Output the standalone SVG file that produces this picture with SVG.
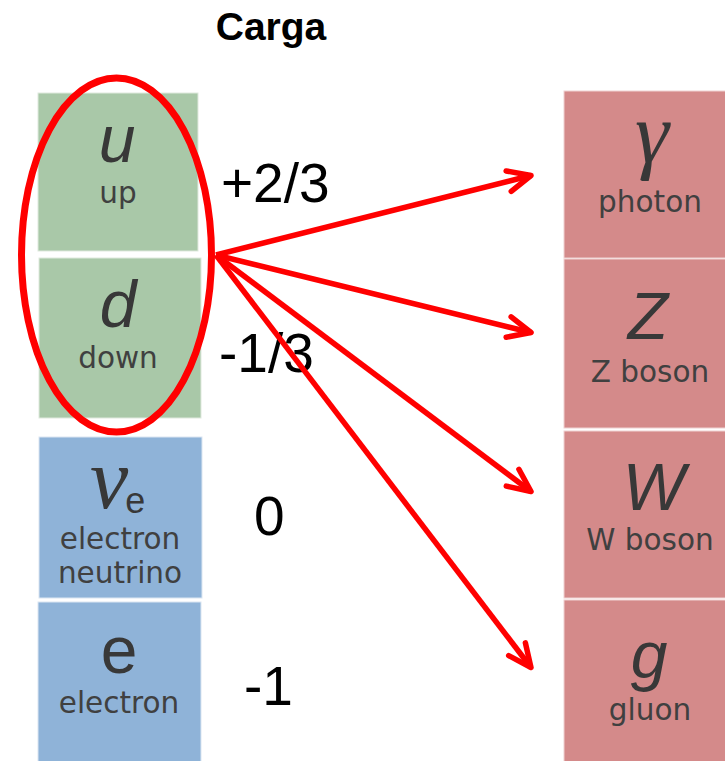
<svg xmlns="http://www.w3.org/2000/svg" width="725" height="761" viewBox="0 0 725 761">
<style>
.q{fill:#a9c8a8;stroke:#dfe9de;stroke-width:1}
.l{fill:#8fb3d8;stroke:#dbe6f2;stroke-width:1}
.b{fill:#d48a8a;stroke:#efd2d2;stroke-width:1}
.sym{font-family:"Liberation Sans",Arial,sans-serif;font-style:italic;font-size:66px;fill:#383838;text-anchor:middle}
.gr{font-family:"Liberation Serif","Times New Roman",serif;font-style:italic;fill:#383838;text-anchor:middle}
.lab{font-family:"DejaVu Sans",sans-serif;font-size:29.5px;fill:#404040;text-anchor:middle}
.num{font-family:"Liberation Sans",Arial,sans-serif;font-size:55px;fill:#000}
.arr{stroke:#ff0000;stroke-width:5.5;fill:none}
</style>
<defs>
<marker id="ah" markerUnits="userSpaceOnUse" orient="auto" overflow="visible" markerWidth="1" markerHeight="1">
<path d="M-23,-10.5 L0,0 L-23,10.5" fill="none" stroke="#ff0000" stroke-width="5.5" stroke-linecap="round" stroke-linejoin="round"/>
</marker>
</defs>
<rect width="725" height="761" fill="#fff"/>
<text x="271" y="40" font-family="Liberation Sans,Arial,sans-serif" font-weight="bold" font-size="39" text-anchor="middle" fill="#000">Carga</text>
<g id="up"><rect class="q" x="38" y="93" width="160" height="158"/><text class="sym" x="117" y="162">u</text><text class="lab" x="118" y="203">up</text></g>
<g id="down"><rect class="q" x="39" y="258" width="162" height="160"/><text class="sym" x="118" y="327">d</text><text class="lab" x="118" y="368">down</text></g>
<g id="neutrino"><rect class="l" x="39" y="437" width="163" height="161"/><text x="90" y="508" font-family="Liberation Serif,Times New Roman,serif" font-style="italic" font-size="86" fill="#383838">ν<tspan dx="-3" dy="5" font-family="Liberation Sans,Arial,sans-serif" font-style="normal" font-size="36">e</tspan></text><text class="lab" x="120" y="549">electron</text><text class="lab" x="120" y="583">neutrino</text></g>
<g id="electron"><rect class="l" x="38" y="602" width="163" height="165"/><text x="119" y="673" font-family="Liberation Sans,Arial,sans-serif" font-size="66" fill="#383838" text-anchor="middle">e</text><text class="lab" x="119" y="713">electron</text></g>
<g id="photon"><rect class="b" x="564" y="91" width="180" height="167"/><text class="gr" x="652" y="162" font-size="86">γ</text><text class="lab" x="650" y="212">photon</text></g>
<g id="zboson"><rect class="b" x="564" y="259" width="180" height="169"/><text class="sym" x="648" y="339">Z</text><text class="lab" x="650" y="382">Z boson</text></g>
<g id="wboson"><rect class="b" x="564" y="431" width="180" height="167"/><text class="sym" x="654" y="510">W</text><text class="lab" x="650" y="550">W boson</text></g>
<g id="gluon"><rect class="b" x="564" y="600" width="180" height="170"/><text class="sym" x="649" y="678">g</text><text class="lab" x="650" y="720">gluon</text></g>
<g id="charges">
<text class="num" x="221" y="202">+2/3</text>
<text class="num" x="219" y="372">-1/3</text>
<text class="num" x="254" y="535">0</text>
<text class="num" x="244" y="705">-1</text>
</g>
<g id="quark-group"><ellipse cx="116.5" cy="255" rx="95" ry="177" fill="none" stroke="#ff0000" stroke-width="7"/></g>
<g id="connectors">
<line class="arr" x1="216" y1="255" x2="531" y2="175.5" marker-end="url(#ah)"/>
<line class="arr" x1="216" y1="255" x2="531" y2="332.5" marker-end="url(#ah)"/>
<line class="arr" x1="216" y1="255" x2="531" y2="491.5" marker-end="url(#ah)"/>
<line class="arr" x1="216" y1="255" x2="531" y2="667.5" marker-end="url(#ah)"/>
</g>
</svg>
